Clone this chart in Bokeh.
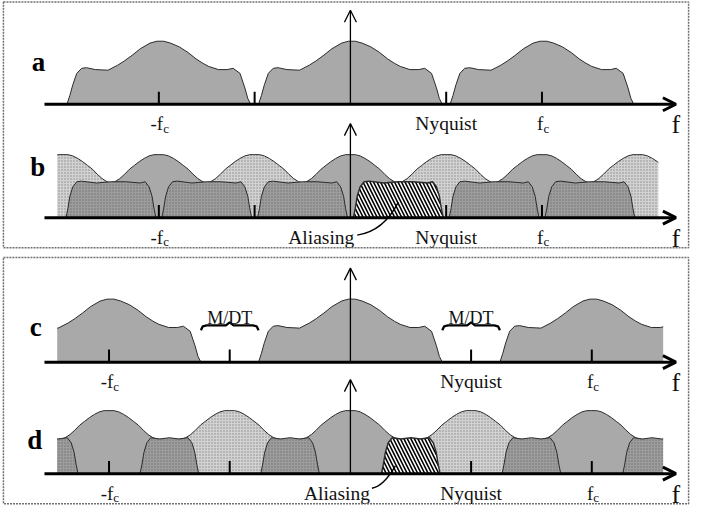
import numpy as np
from bokeh.plotting import figure
from bokeh.models import Range1d, Arrow, OpenHead
from bokeh.core.properties import value
from bokeh.embed import file_html
from bokeh.resources import INLINE

# ---------------- data ----------------
# frequency in arbitrary units (f_c of the upper pair = 20), amplitude relative to the peak
FC_TOP = 20.0
NYQ_TOP = 10.0
FC_BOT = 25.2
NYQ_BOT = 12.6

# one spectral copy: offset from its centre, amplitude
SPEC_OFF = [-9.59, -9.29, -8.98, -8.57, -8.06, -7.55, -6.63, -5.31, -4.29, -3.57, -2.76, -1.94,
            -0.92, -0.20, 0.51, 1.22, 2.14, 3.06, 3.88, 4.59, 5.20, 6.22, 7.14, 7.76, 8.47, 8.98, 9.29, 9.59]
SPEC_AMP = [0.0, 0.14, 0.31, 0.49, 0.57, 0.58, 0.55, 0.54, 0.62, 0.69, 0.78, 0.88,
            0.97, 1.0, 1.0, 0.97, 0.91, 0.82, 0.72, 0.65, 0.60, 0.55, 0.55, 0.57, 0.49, 0.26, 0.09, 0.0]

# central lobe of a copy (panels b and d)
BELL_OFF = [-6.33, -5.61, -5.0, -4.59, -4.08, -3.57, -3.06, -2.55, -2.04, -1.53, -1.02, -0.51, 0.0,
            0.51, 1.02, 1.53, 2.04, 2.55, 3.06, 3.57, 4.08, 4.59, 5.0, 5.61, 6.33]
BELL_AMP = [0.52, 0.54, 0.55, 0.57, 0.62, 0.69, 0.77, 0.83, 0.89, 0.94, 0.98, 1.0, 1.0,
            1.0, 0.98, 0.94, 0.89, 0.83, 0.77, 0.69, 0.62, 0.57, 0.55, 0.54, 0.52]

# overlapping shoulders of neighbouring copies
SHOULDER_B_OFF = [-4.69, -4.49, -4.29, -3.98, -3.57, -3.06, -1.53, 0.0, 1.53, 3.06, 3.57, 3.98, 4.29, 4.49, 4.69]
SHOULDER_B_AMP = [0.0, 0.15, 0.34, 0.49, 0.57, 0.58, 0.55, 0.57, 0.57, 0.55, 0.57, 0.49, 0.34, 0.15, 0.0]
SHOULDER_D_OFF = [-3.06, -2.86, -2.65, -2.35, -1.94, -1.02, 0.0, 1.02, 1.94, 2.35, 2.65, 2.86, 3.06]
SHOULDER_D_AMP = [0.0, 0.15, 0.34, 0.49, 0.57, 0.55, 0.57, 0.55, 0.57, 0.49, 0.34, 0.15, 0.0]

COPIES_A = [-FC_TOP, 0.0, FC_TOP]
COPIES_C = [-FC_BOT, 0.0, FC_BOT]
LOBES_B = [k * NYQ_TOP for k in range(-3, 4)]
SHOULDERS_B = [(k + 0.5) * NYQ_TOP for k in range(-3, 3)]
LOBES_D = [k * NYQ_BOT for k in range(-2, 3)]
SHOULDERS_D = [(k + 0.5) * NYQ_BOT for k in range(-3, 3)]

TICKS_TOP = [-FC_TOP, -NYQ_TOP, NYQ_TOP, FC_TOP]
TICKS_BOT = [-FC_BOT, -NYQ_BOT, NYQ_BOT, FC_BOT]

PANEL_LETTERS = ["a", "b", "c", "d"]
LBL_NYQ = "Nyquist"
LBL_ALIAS = "Aliasing"
LBL_GAP = "M/DT"

# ---------------- layout helpers ----------------
PX = 9.8          # reference pixels per frequency unit
X0 = 358.0        # reference pixel of f = 0
H = 526.0
AMP = 65.0        # pixels of the spectral peak


def fx(px):
    return (px - X0) / PX


def fy(py):
    return H - py


BASE = {"a": fy(107), "b": fy(224), "c": fy(373), "d": fy(488)}
CLIP_TOP = (fx(58), fx(673))
CLIP_BOT = (fx(58), fx(678))

p = figure(width=692, height=510, output_backend="svg", toolbar_location=None,
           x_range=Range1d(fx(0), fx(708)), y_range=Range1d(0, H),
           min_border=0, x_axis_location=None, y_axis_location=None)
p.grid.visible = False
p.outline_line_color = None
p.background_fill_color = "white"
p.border_fill_color = "white"

SERIF = value("Liberation Serif")
GRAY = dict(fill_color="#a9a9a9")
STIP = dict(fill_color="#d2d2d2", hatch_pattern="dot", hatch_color="#8a8a8a", hatch_scale=3, hatch_weight=1)
DARK = dict(fill_color="#9d9d9d", hatch_pattern="dot", hatch_color="#6f6f6f", hatch_scale=3, hatch_weight=1)
ALIAS = dict(fill_color="white", hatch_pattern="\\", hatch_color="black", hatch_scale=7, hatch_weight=1.6)
EDGE = "#2b2b2b"


def shape(center, off, amp, lo, hi):
    x = center + np.asarray(off, float)
    a = np.asarray(amp, float)
    l, h = max(lo, x[0]), min(hi, x[-1])
    if h <= l:
        return None
    inner = (x > l) & (x < h)
    xs = np.concatenate([[l], x[inner], [h]])
    return xs, np.interp(xs, x, a)


def draw(base, center, off, amp, lo, hi, style, edge_w=1.0):
    s = shape(center, off, amp, lo, hi)
    if s is None:
        return
    xs, ys = s
    px_ = np.concatenate([[xs[0]], xs, [xs[-1]]])
    py_ = base + AMP * np.concatenate([[0.0], ys, [0.0]])
    p.patch(px_, py_, line_color=None, **style)
    p.line(xs, base + AMP * ys, line_color=EDGE, line_width=edge_w)


# ---- panel a ----
for c in COPIES_A:
    draw(BASE["a"], c, SPEC_OFF, SPEC_AMP, -1e9, 1e9, GRAY)

# ---- panel b ----
for k, c in enumerate(LOBES_B):
    lo = max(CLIP_TOP[0], c - NYQ_TOP / 2)
    hi = min(CLIP_TOP[1], c + NYQ_TOP / 2)
    draw(BASE["b"], c, BELL_OFF, BELL_AMP, lo, hi, GRAY if k % 2 == 1 else STIP)
for c in SHOULDERS_B:
    aliased = abs(c - NYQ_TOP / 2) < 1e-9
    draw(BASE["b"], c, SHOULDER_B_OFF, SHOULDER_B_AMP, CLIP_TOP[0], CLIP_TOP[1],
         ALIAS if aliased else DARK, 1.4 if aliased else 1.0)

# ---- panel c ----
for c in COPIES_C:
    draw(BASE["c"], c, SPEC_OFF, SPEC_AMP, CLIP_BOT[0], CLIP_BOT[1], GRAY)

# ---- panel d ----
for k, c in enumerate(LOBES_D):
    lo = max(CLIP_BOT[0], c - NYQ_BOT / 2)
    hi = min(CLIP_BOT[1], c + NYQ_BOT / 2)
    draw(BASE["d"], c, BELL_OFF, BELL_AMP, lo, hi, GRAY if k % 2 == 0 else STIP)
for c in SHOULDERS_D:
    aliased = abs(c - NYQ_BOT / 2) < 1e-9
    draw(BASE["d"], c, SHOULDER_D_OFF, SHOULDER_D_AMP, CLIP_BOT[0], CLIP_BOT[1],
         ALIAS if aliased else DARK, 1.4 if aliased else 1.0)

# ---- axes, ticks, labels ----
for key, ticks, fc, nyq in [("a", TICKS_TOP, FC_TOP, NYQ_TOP), ("b", TICKS_TOP, FC_TOP, NYQ_TOP),
                            ("c", TICKS_BOT, FC_BOT, NYQ_BOT), ("d", TICKS_BOT, FC_BOT, NYQ_BOT)]:
    b = BASE[key]
    p.segment(x0=ticks, y0=[b] * 4, x1=ticks, y1=[b + 13] * 4, line_color="black", line_width=2)
    p.add_layout(Arrow(x_start=fx(45), y_start=b, x_end=fx(691), y_end=b, line_width=3,
                       line_color="black", end=OpenHead(size=13, line_width=3, line_color="black")))
    p.add_layout(Arrow(x_start=0, y_start=b, x_end=0, y_end=b + 97, line_width=1.3,
                       line_color="black", end=OpenHead(size=12, line_width=1.3, line_color="black")))
    off = 0.45
    p.text(x=[-fc + off, fc + 0.15], y=[b - 20] * 2, text=["-f", "f"], text_font=SERIF,
           text_font_size="19px", text_align="right", text_baseline="alphabetic", text_color="#111")
    p.text(x=[-fc + off, fc + 0.15], y=[b - 25] * 2, text=["c", "c"], text_font=SERIF,
           text_font_size="13px", text_align="left", text_baseline="alphabetic", text_color="#111")
    p.text(x=[nyq], y=[b - 20], text=[LBL_NYQ], text_font=SERIF, text_font_size="19.5px",
           text_align="center", text_baseline="alphabetic", text_color="#111")
    p.text(x=[fx(691)], y=[b - 21], text=["f"], text_font=SERIF, text_font_size="26px",
           text_align="center", text_baseline="alphabetic", text_color="#111")

# panel letters
p.text(x=[fx(39), fx(38), fx(36), fx(35)], y=[fy(63), fy(172), fy(337), fy(453)], text=PANEL_LETTERS,
       text_font=SERIF, text_font_size="27px", text_font_style="bold", text_align="center",
       text_baseline="alphabetic", text_color="black")

# aliasing labels + leaders
for key, nyq, tx_end, start, ctrl, end in [
        ("b", NYQ_TOP, fx(362), (fx(365), -18), (fx(392), -14), (NYQ_TOP / 2, 16)),
        ("d", NYQ_BOT, fx(378), (fx(380), -15), (fx(392), -13), (fx(404), 8))]:
    b = BASE[key]
    p.text(x=[tx_end], y=[b - 20], text=[LBL_ALIAS], text_font=SERIF, text_font_size="19.5px",
           text_align="right", text_baseline="alphabetic", text_color="#111")
    p.quadratic(x0=[start[0]], y0=[b + start[1]], x1=[end[0]], y1=[b + end[1]],
                cx=[ctrl[0]], cy=[b + ctrl[1]], line_color="black", line_width=1.4)

# M/DT braces in panel c
half = SPEC_OFF[-1]
bc = BASE["c"]
for x0, x1 in [(-FC_BOT + half, -half), (half, FC_BOT - half)]:
    xm = 0.5 * (x0 + x1)
    bx = [x0, x0 + 0.2, x0 + 0.6, xm - 0.4, xm, xm + 0.4, x1 - 0.6, x1 - 0.2, x1]
    by = [bc + v for v in [33, 37, 38, 38, 41, 38, 38, 37, 33]]
    p.line(bx, by, line_color="black", line_width=2.3)
    p.text(x=[xm], y=[bc + 46], text=[LBL_GAP], text_font=SERIF, text_font_size="18px",
           text_align="center", text_baseline="alphabetic", text_color="#111")

# dotted frames
p.quad(left=[fx(3)] * 2, right=[fx(704)] * 2, top=[fy(1.5), fy(265)], bottom=[fy(255), fy(519)],
       fill_color=None, line_color="#707070", line_width=1.5, line_dash="2 1")

open("out.html", "w").write(file_html(p, INLINE))
